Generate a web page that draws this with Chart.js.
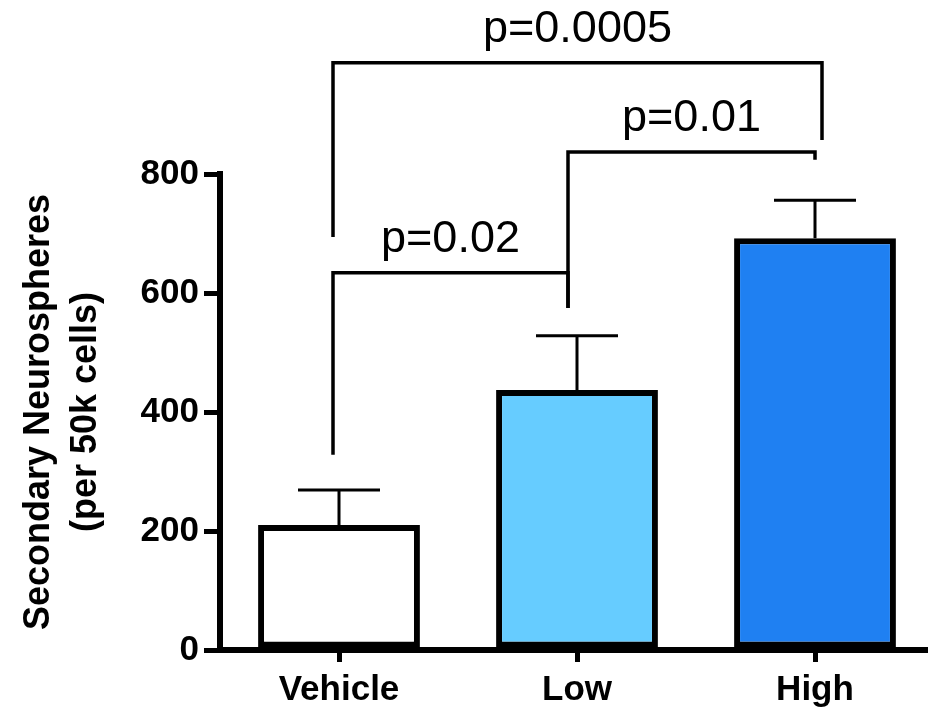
<!DOCTYPE html>
<html>
<head>
<meta charset="utf-8">
<script src="https://cdn.jsdelivr.net/npm/chart.js@4"></script>
<style>
  html, body { margin: 0; padding: 0; background: #fff; overflow: hidden; }
  #wrap { width: 934px; height: 708px; }
</style>
</head>
<body>
<div id="wrap"><canvas id="chart" width="934" height="708"></canvas></div>
<script>
// Values (mean + SEM, upper error bar only)
const groups    = ['Vehicle', 'Low', 'High'];
const means     = [210, 437, 692];
const sems      = [59, 91, 64];
const barColors = ['#FFFFFF', '#66CCFF', '#1F80F2'];
const yTicks    = [0, 200, 400, 600, 800];

// Significance brackets: which two groups, and the p-value shown above it
const pairs   = [[0, 1], [1, 2], [0, 2]];
const pLabels = ['p=0.02', 'p=0.01', 'p=0.0005'];
// bracket bar height and the lower ends of its two legs (in y-axis units)
const bracketLevel = [634, 837, 987];
const legEnds      = [[328, 575], [575, 824], [694, 857]];

const FONT = "'Liberation Sans', Arial, Helvetica, sans-serif";

// Draws error bars and the comparison brackets on top of the bars
const annotate = {
  id: 'annotate',
  afterDatasetsDraw(chart) {
    const { ctx, scales: { x, y } } = chart;
    ctx.save();
    ctx.strokeStyle = '#000';
    ctx.fillStyle = '#000';

    // error bars
    ctx.lineWidth = 3;
    means.forEach((m, i) => {
      const cx = x.getPixelForValue(i);
      const base = y.getPixelForValue(m);
      const top = y.getPixelForValue(m + sems[i]);
      ctx.beginPath();
      ctx.moveTo(cx, base);
      ctx.lineTo(cx, top);
      ctx.moveTo(cx - 41, top);
      ctx.lineTo(cx + 41, top);
      ctx.stroke();
    });

    // brackets - legs sit a touch left of the bar centres like the original
    const nudge = [[-6, -9], [-9, 0], [-6, 7]];
    ctx.lineWidth = 3.5;
    ctx.lineJoin = 'miter';
    ctx.font = `45px ${FONT}`;
    ctx.textAlign = 'center';
    ctx.textBaseline = 'alphabetic';
    pairs.forEach(([a, b], k) => {
      const x1 = x.getPixelForValue(a) + nudge[k][0];
      const x2 = x.getPixelForValue(b) + nudge[k][1];
      const yb = y.getPixelForValue(bracketLevel[k]);
      ctx.beginPath();
      ctx.moveTo(x1, y.getPixelForValue(legEnds[k][0]));
      ctx.lineTo(x1, yb);
      ctx.lineTo(x2, yb);
      ctx.lineTo(x2, y.getPixelForValue(legEnds[k][1]));
      ctx.stroke();
      ctx.fillText(pLabels[k], (x1 + x2) / 2, yb - 21);
    });
    ctx.restore();
  }
};

new Chart(document.getElementById('chart'), {
  type: 'bar',
  data: {
    labels: groups,
    datasets: [{
      data: means,
      backgroundColor: barColors,
      borderColor: '#000',
      borderWidth: 6,
      borderSkipped: false,
      barPercentage: 0.68,
      categoryPercentage: 1
    }]
  },
  options: {
    responsive: false,
    animation: false,
    layout: { padding: { top: 174, left: 0, right: 0, bottom: 0 } },
    plugins: { legend: { display: false }, tooltip: { enabled: false } },
    scales: {
      x: {
        afterFit: s => { s.height = 58; },
        border: { color: '#000', width: 6 },
        grid: { offset: false, drawOnChartArea: false, color: '#000', lineWidth: 5, tickLength: 12 },
        ticks: { color: '#000', padding: 7, font: { family: FONT, size: 35, weight: 'bold' } }
      },
      y: {
        min: 0,
        max: 800,
        afterFit: s => { s.width = 220; },
        afterBuildTicks: s => { s.ticks = yTicks.map(v => ({ value: v })); },
        border: { color: '#000', width: 6 },
        grid: { drawOnChartArea: false, color: '#000', lineWidth: 5, tickLength: 16 },
        ticks: { color: '#000', padding: 5, font: { family: FONT, size: 35, weight: 'bold' } },
        title: {
          display: true,
          text: ['Secondary Neurospheres', '(per 50k cells)'],
          color: '#000',
          padding: { top: 16, bottom: 0 },
          font: { family: FONT, size: 36, weight: 'bold', lineHeight: 1.3 }
        }
      }
    }
  },
  plugins: [annotate]
});
</script>
</body>
</html>
